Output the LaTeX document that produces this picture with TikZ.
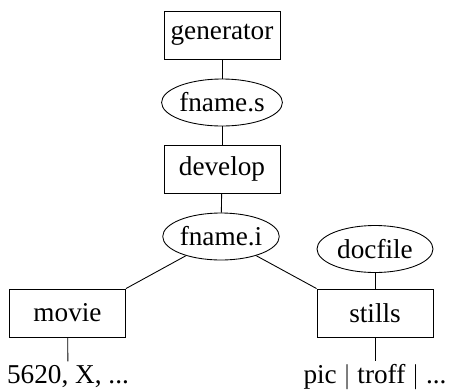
\documentclass[tikz,border=0pt]{standalone}
\usepackage{fontspec}
\setmainfont{Liberation Serif}
\usepackage{tikz}
\usetikzlibrary{shapes.geometric}
\tikzset{
	prog/.style={draw, line width=0.5pt, minimum width=2.32cm, minimum height=0.96cm, inner sep=0pt},
	file/.style={draw, ellipse, line width=0.5pt, minimum width=2.32cm, minimum height=0.94cm, inner sep=0pt},
	outlabel/.style={anchor=base, inner sep=3pt, text height=2ex, text depth=0.5ex},
	link/.style={line width=0.5pt}
}

\begin{document}
\begin{tikzpicture}[x=0.02cm, y=-0.02cm, font=\fontsize{15.5}{18}\selectfont]
			%%%%% START %%%%%
			\useasboundingbox (0, 0) rectangle (451, 390);
			
			\node[prog] (generator) at (222, 35) {generator};
			\node[file] (fnames) at (222, 102.5) {fname.s};
			\node[prog] (develop) at (222, 169) {develop};
			\node[file] (fnamei) at (221, 236.5) {fname.i};
			
			\node[file] (docfile) at (375, 249) {docfile};
			\node[prog] (movie) at (67.5, 313) {movie};
			\node[prog] (stills) at (375, 313) {stills};
			
			\node[outlabel] (movieout) at (68, 383) {5620, X, ...};
			\node[outlabel] (stillsout) at (375, 383) {pic $|$ troff $|$ ...};
			
			\draw[link] (generator) -- (fnames);
			\draw[link] (fnames) -- (develop);
			\draw[link] (develop) -- (fnamei);
			\draw[link] (fnamei) -- (movie.north east);
			\draw[link] (fnamei) -- (stills.north west);
			\draw[link] (docfile) -- (stills);
			
			\draw[link] (movie) -- (movieout);
			\draw[link] (stills) -- (stillsout);
			
			%%%%% END %%%%%
		\end{tikzpicture}
\end{document}
